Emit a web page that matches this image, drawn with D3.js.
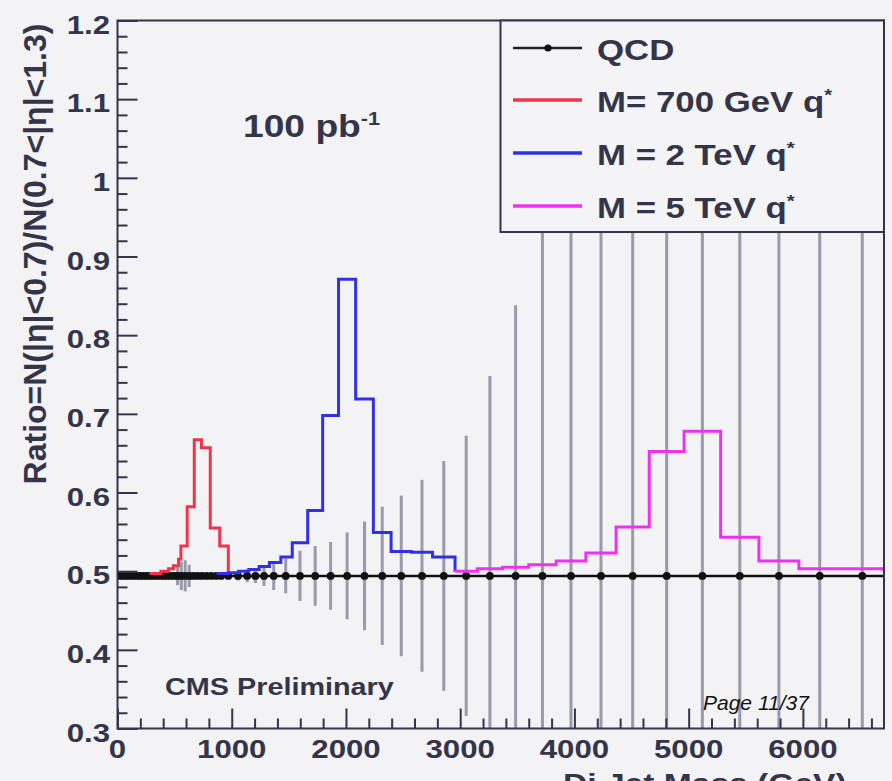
<!DOCTYPE html>
<html>
<head>
<meta charset="utf-8">
<script src="https://cdn.jsdelivr.net/npm/d3@7"></script>
<style>
  html, body { margin: 0; padding: 0; background: #f3f3f5; }
  svg { display: block; }
</style>
</head>
<body>
<svg id="chart" width="892" height="781"></svg>
<script>
// ---------------- data ----------------
// QCD ratio per dijet-mass bin (GeV bin edges), with statistical errors
const qcdEdges = [0, 30, 60, 90, 120, 150, 180, 210, 240, 270,
  300, 330, 360, 390, 420, 450, 480, 510, 542, 575,
  610, 645, 682, 720, 760, 800, 842, 885, 930, 1010,
  1100, 1170, 1245, 1320, 1415, 1530, 1665, 1796, 1935, 2085,
  2240, 2395, 2573, 2758, 2955, 3150, 3370, 3600, 3840, 4100,
  4365, 4655, 4960, 5280, 5615, 5965, 6330, 6710];
const qcdRatio = [0.494, 0.494, 0.494, 0.494, 0.494, 0.494, 0.494, 0.494, 0.494, 0.494,
  0.494, 0.494, 0.494, 0.494, 0.494, 0.494, 0.494, 0.494, 0.494, 0.494,
  0.494, 0.494, 0.494, 0.494, 0.494, 0.494, 0.494, 0.494, 0.494, 0.494,
  0.494, 0.494, 0.494, 0.494, 0.494, 0.494, 0.494, 0.494, 0.494, 0.494,
  0.494, 0.494, 0.494, 0.494, 0.494, 0.494, 0.494, 0.494, 0.494, 0.494,
  0.494, 0.494, 0.494, 0.494, 0.494, 0.494, 0.494];
const qcdError = [0.002, 0.002, 0.002, 0.002, 0.002, 0.002, 0.002, 0.002, 0.002, 0.002,
  0.002, 0.002, 0.002, 0.002, 0.002, 0.002, 0.002, 0.012, 0.018, 0.020,
  0.014, 0.004, 0.003, 0.003, 0.003, 0.003, 0.003, 0.003, 0.004, 0.006,
  0.008, 0.009, 0.013, 0.018, 0.022, 0.032, 0.038, 0.043, 0.055, 0.069,
  0.088, 0.102, 0.122, 0.146, 0.178, 0.254, 0.344, 0.47, 0.58, 0.70,
  0.85, 1.00, 1.20, 1.40, 1.60, 1.90, 2.20];

// Excited quark signals (q*), ratio per bin
const q700Edges = [280, 380, 447, 490, 534, 555, 610, 672, 735, 812, 895, 970];
const q700Ratio = [0.497, 0.500, 0.503, 0.507, 0.515, 0.532, 0.582, 0.667, 0.657, 0.555, 0.532];
const q700Floor = 0.497;

const q2000Edges = [880, 970, 1060, 1150, 1240, 1330, 1430, 1530, 1665, 1796,
  1935, 2085, 2240, 2395, 2573, 2758, 2955];
const q2000Ratio = [0.497, 0.498, 0.500, 0.502, 0.506, 0.511, 0.518, 0.536, 0.577, 0.698,
  0.871, 0.719, 0.549, 0.525, 0.524, 0.518];
const q2000Floor = 0.499;

const q5000Edges = [2955, 3150, 3370, 3600, 3840, 4100, 4365, 4655, 4960, 5280,
  5615, 5965, 6330, 6710];
const q5000Ratio = [0.500, 0.503, 0.505, 0.508, 0.513, 0.523, 0.556, 0.652, 0.678, 0.543,
  0.513, 0.503, 0.503];
const q5000Floor = 0.499;

// Axes
const xTicks = [0, 1000, 2000, 3000, 4000, 5000, 6000];
const xTickLabels = ["0", "1000", "2000", "3000", "4000", "5000", "6000"];
const yTicks = [0.3, 0.4, 0.5, 0.6, 0.7, 0.8, 0.9, 1.0, 1.1, 1.2];
const yTickLabels = ["0.3", "0.4", "0.5", "0.6", "0.7", "0.8", "0.9", "1", "1.1", "1.2"];
const xDomain = [0, 6710];
const yDomain = [0.3, 1.2];

// Legend
const legendLabels = ["QCD", "M= 700 GeV q", "M = 2 TeV q", "M = 5 TeV q"];
const legendSup = ["", "*", "*", "*"];

// ---------------- drawing ----------------
const svg = d3.select("#chart");
const W = 892, H = 781;
const box = { left: 117.5, right: 884, top: 20.5, bottom: 728.5 };

const ink = "#35354a";
const barGrey = "#9a9aad";
const colRed = "#f0344a";
const colBlue = "#3030e6";
const colMag = "#f030f0";
const font = "'Liberation Sans', Arial, Helvetica, sans-serif";
const stretch = 1.2;

svg.append("rect").attr("width", W).attr("height", H).attr("fill", "#f3f3f5");

const x = d3.scaleLinear().domain(xDomain).range([box.left, box.right]);
const y = d3.scaleLinear().domain(yDomain).range([box.bottom, box.top]);

// text helper: horizontally widened glyphs
function label(parent, px, py, str, opts) {
  const o = Object.assign({ size: 26, anchor: "start", weight: "bold", fill: ink, sx: stretch, style: "normal" }, opts || {});
  const g = parent.append("g").attr("transform", `translate(${px},${py}) scale(${o.sx},1)`);
  const t = g.append("text")
    .attr("x", 0).attr("y", 0)
    .attr("text-anchor", o.anchor)
    .attr("font-family", font)
    .attr("font-size", o.size)
    .attr("font-weight", o.weight)
    .attr("font-style", o.style)
    .attr("fill", o.fill)
    .text(str);
  return t;
}

svg.append("defs").append("clipPath").attr("id", "plotClip")
  .append("rect")
  .attr("x", box.left).attr("y", box.top)
  .attr("width", box.right - box.left).attr("height", box.bottom - box.top);

const plot = svg.append("g").attr("clip-path", "url(#plotClip)");

// QCD error bars
const qcdBins = qcdRatio.map((r, i) => ({
  lo: qcdEdges[i], hi: qcdEdges[i + 1], c: (qcdEdges[i] + qcdEdges[i + 1]) / 2, r, e: qcdError[i]
}));

plot.append("g").selectAll("line")
  .data(qcdBins)
  .join("line")
  .attr("x1", d => x(d.c)).attr("x2", d => x(d.c))
  .attr("y1", d => y(d.r - d.e)).attr("y2", d => y(d.r + d.e))
  .attr("stroke", barGrey).attr("stroke-width", 3);

// QCD horizontal bin-width bars and markers
const qcdPts = qcdBins.map(d => [d.lo, d.r]).concat([[qcdEdges[qcdEdges.length - 1], qcdRatio[qcdRatio.length - 1]]]);
plot.append("path")
  .attr("d", d3.line().x(d => x(d[0])).y(d => y(d[1])).curve(d3.curveStepAfter)(qcdPts))
  .attr("fill", "none").attr("stroke", "#111").attr("stroke-width", 2.5);

plot.append("g").selectAll("circle")
  .data(qcdBins)
  .join("circle")
  .attr("cx", d => x(d.c)).attr("cy", d => y(d.r))
  .attr("r", 3.9).attr("fill", "#111");

// signal step histograms
function stepHist(edges, vals, floor, color) {
  const pts = [[edges[0], floor]];
  vals.forEach((v, i) => pts.push([edges[i], v]));
  pts.push([edges[edges.length - 1], vals[vals.length - 1]]);
  pts.push([edges[edges.length - 1], floor]);
  plot.append("path")
    .attr("d", d3.line().x(d => x(d[0])).y(d => y(d[1])).curve(d3.curveStepAfter)(pts))
    .attr("fill", "none").attr("stroke", color).attr("stroke-width", 3)
    .attr("stroke-linejoin", "miter");
}
stepHist(q700Edges, q700Ratio, q700Floor, colRed);
stepHist(q2000Edges, q2000Ratio, q2000Floor, colBlue);
stepHist(q5000Edges, q5000Ratio, q5000Floor, colMag);

// axes: inward ticks
const axisStyle = sel => {
  sel.select(".domain").remove();
  sel.selectAll(".tick line").attr("stroke", ink).attr("stroke-width", 2);
  sel.selectAll(".tick text").remove();
};

const yMinor = d3.range(0.3, 1.2001, 0.02).filter(v => Math.abs(v * 10 - Math.round(v * 10)) > 1e-6);
const xMinor = d3.range(0, 6701, 200).filter(v => v % 1000 !== 0);

svg.append("g").attr("transform", `translate(${box.left},0)`)
  .call(d3.axisLeft(y).tickValues(yTicks).tickSize(-20).tickFormat(""))
  .call(axisStyle);
svg.append("g").attr("transform", `translate(${box.left},0)`)
  .call(d3.axisLeft(y).tickValues(yMinor).tickSize(-10).tickFormat(""))
  .call(axisStyle);
svg.append("g").attr("transform", `translate(0,${box.bottom})`)
  .call(d3.axisBottom(x).tickValues(xTicks).tickSize(-20).tickFormat(""))
  .call(axisStyle);
svg.append("g").attr("transform", `translate(0,${box.bottom})`)
  .call(d3.axisBottom(x).tickValues(xMinor).tickSize(-10).tickFormat(""))
  .call(axisStyle);

// frame
svg.append("rect")
  .attr("x", box.left).attr("y", box.top)
  .attr("width", box.right - box.left).attr("height", box.bottom - box.top)
  .attr("fill", "none").attr("stroke", ink).attr("stroke-width", 2);

// tick labels
yTicks.forEach((v, i) => label(svg, 110, y(v) + 13, yTickLabels[i], { anchor: "end" }));
xTicks.forEach((v, i) => label(svg, x(v), 758, xTickLabels[i], { anchor: "middle" }));

// axis titles
svg.append("text")
  .attr("transform", `translate(46,254) rotate(-90)`)
  .attr("text-anchor", "middle")
  .attr("font-family", font).attr("font-size", 32).attr("font-weight", "bold")
  .attr("fill", ink)
  .text("Ratio=N(|η|<0.7)/N(0.7<|η|<1.3)");

label(svg, 563, 793, "Di Jet Mass (GeV)", { size: 28 });

// annotations
const lumi = label(svg, 243, 137, "100 pb", { size: 31 });
lumi.append("tspan").attr("dy", -12).attr("font-size", 18).text("-1");

label(svg, 165, 695, "CMS Preliminary", { size: 24 });

// legend
const leg = svg.append("g");
leg.append("rect")
  .attr("x", 500.5).attr("y", box.top)
  .attr("width", box.right - 500.5).attr("height", 232 - box.top)
  .attr("fill", "#f4f4f6").attr("stroke", ink).attr("stroke-width", 2);

const legColors = ["#222", colRed, colBlue, colMag];
const legRowY = [48, 100, 153, 206];
legendLabels.forEach((txt, i) => {
  const cy = legRowY[i];
  leg.append("line").attr("x1", 513).attr("x2", 582).attr("y1", cy).attr("y2", cy)
    .attr("stroke", legColors[i]).attr("stroke-width", i === 0 ? 2.5 : 3.5);
  if (i === 0) leg.append("circle").attr("cx", 548).attr("cy", cy).attr("r", 3.6).attr("fill", "#111");
  const t = label(leg, 597, cy + 12, txt, { size: 29 });
  if (legendSup[i]) t.append("tspan").attr("dy", -11).attr("font-size", 17).text(legendSup[i]);
});

// page footer
svg.append("text")
  .attr("x", 703).attr("y", 710)
  .attr("font-family", font).attr("font-size", 21).attr("font-style", "italic")
  .attr("fill", "#111")
  .text("Page 11/37");
</script>
</body>
</html>
